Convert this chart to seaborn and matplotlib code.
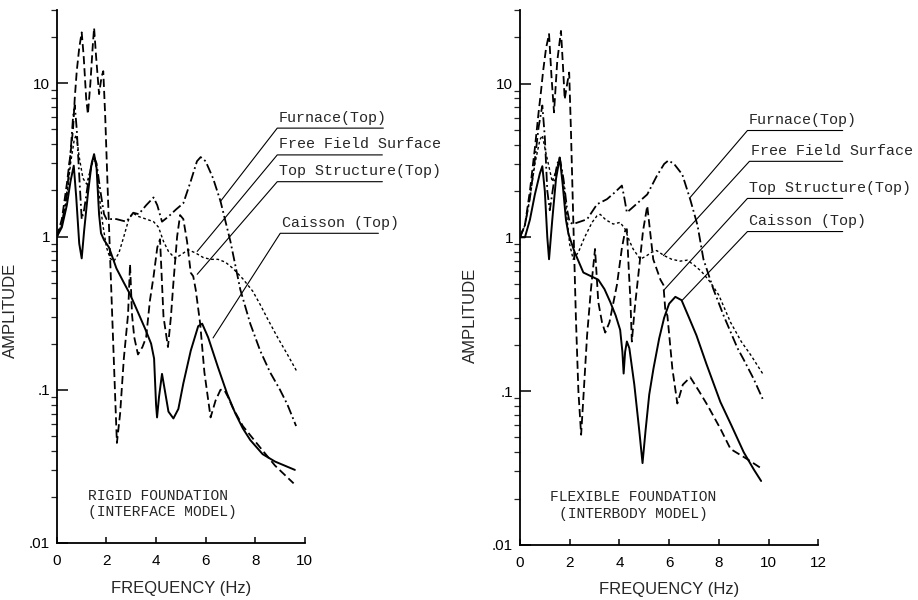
import matplotlib
matplotlib.use('Agg')
import matplotlib.pyplot as plt
import seaborn as sns
import numpy as np
from matplotlib.ticker import LogLocator, FixedLocator, NullFormatter

# ========== 1. data ==========
# left panel: rigid foundation (interface model)
rigid_caisson_f = [0, 0.2, 0.4, 0.55, 0.68, 0.78, 0.9, 1.0, 1.1, 1.25, 1.4, 1.5, 1.6, 1.7, 1.78,
                   1.9, 2.1, 2.4, 2.7, 2.95, 3.2, 3.56, 3.8, 3.92, 4.0, 4.04, 4.12, 4.24, 4.35,
                   4.5, 4.7, 4.9, 5.1, 5.4, 5.7, 5.86, 6.1, 6.5, 6.87, 7.2, 7.5, 7.8, 8.3, 8.8, 9.6]
rigid_caisson_a = [1.0, 1.15, 1.6, 2.3, 2.9, 1.8, 0.9, 0.72, 1.1, 1.9, 3.0, 3.45, 2.8, 1.4, 1.05,
                   0.95, 0.85, 0.62, 0.5, 0.42, 0.34, 0.25, 0.2, 0.16, 0.08, 0.066, 0.09, 0.127, 0.1,
                   0.072, 0.065, 0.075, 0.11, 0.18, 0.26, 0.27, 0.22, 0.14, 0.094, 0.07, 0.056, 0.047,
                   0.038, 0.034, 0.030]

rigid_top_f = [0, 0.2, 0.4, 0.55, 0.65, 0.72, 0.8, 0.9, 1.0, 1.08, 1.18, 1.25, 1.35, 1.45, 1.5,
               1.58, 1.7, 1.8, 1.87, 1.95, 2.05, 2.15, 2.25, 2.35, 2.42, 2.55, 2.7, 2.87, 2.95,
               3.03, 3.12, 3.27, 3.45, 3.6, 3.75, 3.9, 4.05, 4.16, 4.3, 4.48, 4.6, 4.7, 4.85,
               4.97, 5.1, 5.25, 5.4, 5.5, 5.6, 5.78, 5.95, 6.2, 6.4, 6.6, 6.75, 6.9, 7.1, 7.5,
               8.2, 8.8, 9.55]
rigid_top_a = [1.0, 1.3, 2.2, 3.5, 5.0, 8.0, 12, 17, 21.5, 15, 8.0, 6.3, 10, 18, 23,
               15, 8.5, 11, 12, 6.0, 2.0, 0.7, 0.25, 0.09, 0.045, 0.07, 0.16, 0.31, 0.66,
               0.31, 0.22, 0.17, 0.19, 0.22, 0.38, 0.55, 0.85, 0.96, 0.3, 0.19, 0.3, 0.5, 1.0,
               1.38, 1.3, 0.93, 0.58, 0.55, 0.45, 0.27, 0.13, 0.066, 0.085, 0.1, 0.1, 0.09,
               0.076, 0.058, 0.042, 0.032, 0.0245]

rigid_free_f = [0, 0.2, 0.4, 0.55, 0.7, 0.78, 0.9, 1.05, 1.2, 1.35, 1.5, 1.6, 1.7, 1.85, 2.0,
                2.15, 2.3, 2.5, 2.7, 2.9, 3.07, 3.3, 3.6, 3.9, 4.1, 4.3, 4.5, 4.77, 5.0, 5.3,
                5.6, 5.9, 6.2, 6.5, 6.8, 7.1, 7.5, 7.9, 8.2, 8.5, 8.9, 9.3, 9.7]
rigid_free_a = [1.0, 1.2, 1.8, 3.0, 4.3, 4.6, 3.3, 2.4, 2.2, 2.7, 3.3, 2.8, 1.9, 1.2, 0.85,
                0.72, 0.69, 0.78, 1.0, 1.3, 1.42, 1.35, 1.3, 1.25, 1.15, 0.93, 0.8, 0.72, 0.76,
                0.82, 0.78, 0.73, 0.71, 0.71, 0.68, 0.62, 0.53, 0.44, 0.36, 0.29, 0.22, 0.17, 0.13]

rigid_furnace_f = [0, 0.2, 0.4, 0.55, 0.65, 0.72, 0.8, 0.9, 1.0, 1.1, 1.25, 1.4, 1.5, 1.6, 1.75,
                   1.9, 2.0, 2.4, 2.8, 3.08, 3.3, 3.6, 3.9, 4.05, 4.24, 4.5, 4.8, 5.1, 5.4, 5.65,
                   5.8, 6.0, 6.3, 6.6, 7.0, 7.4, 7.8, 8.2, 8.6, 9.0, 9.3, 9.65]
rigid_furnace_a = [1.0, 1.2, 1.9, 3.5, 6.0, 7.2, 5.0, 2.5, 1.3, 1.5, 2.2, 3.0, 3.3, 3.0, 2.0,
                   1.4, 1.3, 1.3, 1.25, 1.43, 1.4, 1.6, 1.8, 1.6, 1.25, 1.35, 1.5, 1.65, 2.3, 3.1,
                   3.3, 3.1, 2.4, 1.7, 0.93, 0.45, 0.27, 0.18, 0.13, 0.1, 0.08, 0.058]

# right panel: flexible foundation (interbody model)
flex_caisson_f = [0, 0.2, 0.4, 0.6, 0.8, 0.9, 1.0, 1.1, 1.17, 1.3, 1.45, 1.6, 1.72, 1.85, 1.95,
                  2.2, 2.55, 3.15, 3.4, 3.63, 3.85, 4.03, 4.12, 4.17, 4.23, 4.3, 4.4, 4.6, 4.8,
                  4.93, 5.05, 5.2, 5.37, 5.6, 5.8, 6.0, 6.25, 6.5, 6.8, 7.1, 7.5, 8.06, 8.5,
                  9.0, 9.4, 9.7]
flex_caisson_a = [1.0, 1.0, 1.3, 1.9, 2.6, 2.9, 2.0, 1.0, 0.72, 1.3, 2.4, 3.3, 2.2, 1.3, 1.05,
                  0.8, 0.59, 0.53, 0.46, 0.38, 0.31, 0.25, 0.18, 0.13, 0.18, 0.21, 0.19, 0.11,
                  0.055, 0.034, 0.055, 0.095, 0.14, 0.22, 0.3, 0.37, 0.41, 0.39, 0.3, 0.23, 0.15,
                  0.085, 0.06, 0.04, 0.031, 0.026]

flex_top_f = [0, 0.2, 0.4, 0.6, 0.75, 0.85, 0.93, 1.05, 1.17, 1.27, 1.37, 1.5, 1.65, 1.73, 1.8,
              1.9, 1.98, 2.05, 2.15, 2.25, 2.35, 2.46, 2.55, 2.7, 2.85, 3.02, 3.15, 3.3, 3.43,
              3.6, 3.9, 4.1, 4.23, 4.3, 4.38, 4.44, 4.5, 4.62, 4.8, 4.95, 5.12, 5.36, 5.65,
              5.77, 5.85, 5.93, 6.13, 6.33, 6.55, 6.85, 7.2, 7.54, 8.06, 8.47, 9.15, 9.76]
flex_top_a = [1.0, 1.2, 2.0, 3.8, 6.5, 9.0, 12, 17, 21, 11, 6.5, 14, 22, 13, 7.9,
              10, 11.8, 5.0, 1.2, 0.3, 0.1, 0.052, 0.09, 0.23, 0.45, 0.84, 0.38, 0.28, 0.24,
              0.28, 0.49, 0.85, 1.1, 1.13, 0.6, 0.4, 0.21, 0.35, 0.65, 1.1, 1.6, 0.72, 0.53,
              0.49, 0.33, 0.31, 0.14, 0.083, 0.11, 0.123, 0.1, 0.081, 0.057, 0.042, 0.036, 0.031]

flex_free_f = [0, 0.2, 0.4, 0.6, 0.8, 0.9, 1.05, 1.3, 1.45, 1.6, 1.75, 1.9, 2.0, 2.14, 2.35,
               2.6, 2.9, 3.1, 3.23, 3.45, 3.75, 4.03, 4.23, 4.4, 4.55, 4.84, 5.1, 5.3, 5.5,
               5.8, 6.1, 6.45, 6.73, 7.0, 7.3, 7.66, 8.0, 8.47, 8.9, 9.3, 9.76]
flex_free_a = [1.0, 1.2, 1.8, 3.0, 4.3, 4.6, 3.5, 2.3, 2.7, 3.3, 2.3, 1.3, 0.9, 0.72, 0.8,
               1.0, 1.25, 1.38, 1.41, 1.3, 1.22, 1.25, 1.13, 0.95, 0.84, 0.72, 0.76, 0.8, 0.82,
               0.76, 0.72, 0.7, 0.71, 0.66, 0.6, 0.51, 0.42, 0.28, 0.21, 0.17, 0.13]

flex_furnace_f = [0, 0.2, 0.4, 0.6, 0.75, 0.9, 1.0, 1.1, 1.2, 1.35, 1.5, 1.6, 1.75, 1.9, 2.0,
                  2.14, 2.7, 3.1, 3.5, 3.8, 4.1, 4.2, 4.3, 4.6, 5.12, 5.5, 5.8, 5.97, 6.2, 6.53,
                  6.85, 7.14, 7.38, 7.78, 8.19, 8.75, 9.0, 9.4, 9.76]
flex_furnace_a = [1.0, 1.2, 1.8, 3.2, 5.2, 7.2, 4.5, 2.0, 1.5, 2.2, 3.0, 3.3, 2.4, 1.5, 1.25,
                  1.22, 1.31, 1.64, 1.77, 1.95, 2.17, 1.8, 1.45, 1.6, 1.9, 2.5, 3.0, 3.16, 3.0,
                  2.56, 1.76, 1.2, 0.72, 0.46, 0.31, 0.19, 0.16, 0.12, 0.089]

series_names = ['Furnace(Top)', 'Free Field Surface', 'Top Structure(Top)', 'Caisson (Top)']

# ========== 2. style ==========
sns.set_style('ticks')
plt.rcParams['font.family'] = ['Liberation Sans', 'DejaVu Sans']

styles = {
    'furnace': dict(linestyle=(0, (5.5, 1.8, 1.0, 1.8)), lw=1.3),
    'free': dict(linestyle=(0, (2.0, 1.8)), lw=1.0),
    'top': dict(linestyle=(0, (4.5, 2.2)), lw=1.3),
    'caisson': dict(linestyle='-', lw=1.4),
}

fig = plt.figure(figsize=(9.18, 6.0), dpi=100)
ax1 = fig.add_axes([0.062, 0.095, 0.270, 0.888])
ax2 = fig.add_axes([0.5664, 0.092, 0.325, 0.891])

panels = [
    (ax1, 10, {'furnace': (rigid_furnace_f, rigid_furnace_a), 'free': (rigid_free_f, rigid_free_a),
               'top': (rigid_top_f, rigid_top_a), 'caisson': (rigid_caisson_f, rigid_caisson_a)}),
    (ax2, 12, {'furnace': (flex_furnace_f, flex_furnace_a), 'free': (flex_free_f, flex_free_a),
               'top': (flex_top_f, flex_top_a), 'caisson': (flex_caisson_f, flex_caisson_a)}),
]

for ax, xmax, curves in panels:
    for key, (f, a) in curves.items():
        sns.lineplot(x=f, y=a, ax=ax, color='black', sort=False, estimator=None,
                     **styles[key])
    ax.set_yscale('log')
    ax.set_xlim(0, xmax)
    ax.set_ylim(0.01, 30)
    ax.xaxis.set_major_locator(FixedLocator(np.arange(0, xmax + 1, 2)))
    ax.yaxis.set_major_locator(FixedLocator([0.01, 0.1, 1, 10]))
    ax.yaxis.set_minor_locator(LogLocator(base=10, subs=np.arange(2, 10)))
    ax.yaxis.set_minor_formatter(NullFormatter())
    ax.set_yticklabels(['.01', '.1', '1', '10'])
    ax.tick_params(axis='both', direction='in', colors='black', labelsize=11, width=1.1)
    ax.tick_params(axis='y', which='major', length=8, pad=5)
    ax.tick_params(axis='y', which='minor', length=4, width=0.9)
    ax.tick_params(axis='x', length=4, pad=8)
    for s in ['top', 'right']:
        ax.spines[s].set_visible(False)
    for s in ['left', 'bottom']:
        ax.spines[s].set_linewidth(1.3)
        ax.spines[s].set_color('black')
    ax.set_xlabel('FREQUENCY (Hz)', fontsize=12, labelpad=9)
    ax.set_ylabel('AMPLITUDE', fontsize=12)

ax1.yaxis.set_label_coords(-0.157, 0.437)
ax2.yaxis.set_label_coords(-0.141, 0.43)

# ========== 3. labels with leader lines ==========
mono = ['Liberation Mono', 'DejaVu Sans Mono']
# (tip f, tip a, start f, line a, end f)
rigid_leaders = [(6.59, 1.69, 8.89, 5.1, 13.17),
                 (5.66, 0.80, 8.89, 3.41, 13.13),
                 (5.66, 0.567, 8.89, 2.28, 13.13),
                 (6.30, 0.218, 9.01, 1.05, 12.97)]
flex_leaders = [(6.85, 1.82, 9.15, 4.95, 12.98),
                (5.77, 0.76, 9.23, 3.12, 12.98),
                (5.77, 0.45, 9.15, 1.79, 12.98),
                (6.53, 0.39, 9.15, 1.09, 12.98)]

for ax, leaders in [(ax1, rigid_leaders), (ax2, flex_leaders)]:
    for name, (tf, ta, sf, la, ef) in zip(series_names, leaders):
        ax.plot([tf, sf, ef], [ta, la, la], color='black', lw=0.8, clip_on=False)
        ax.annotate(name, xy=(sf, la), xytext=(1, 2.5), textcoords='offset points',
                    ha='left', va='bottom', fontsize=10.8, family=mono,
                    annotation_clip=False)

ax1.text(1.25, 0.018, 'RIGID FOUNDATION\n(INTERFACE MODEL)', fontsize=10.5, family=mono,
         ha='left', va='center', linespacing=1.25)
ax2.text(1.21, 0.018, 'FLEXIBLE FOUNDATION\n(INTERBODY MODEL)', fontsize=10.5, family=mono,
         ha='left', va='center', multialignment='center', linespacing=1.25)

plt.savefig('out.png', dpi=100)
